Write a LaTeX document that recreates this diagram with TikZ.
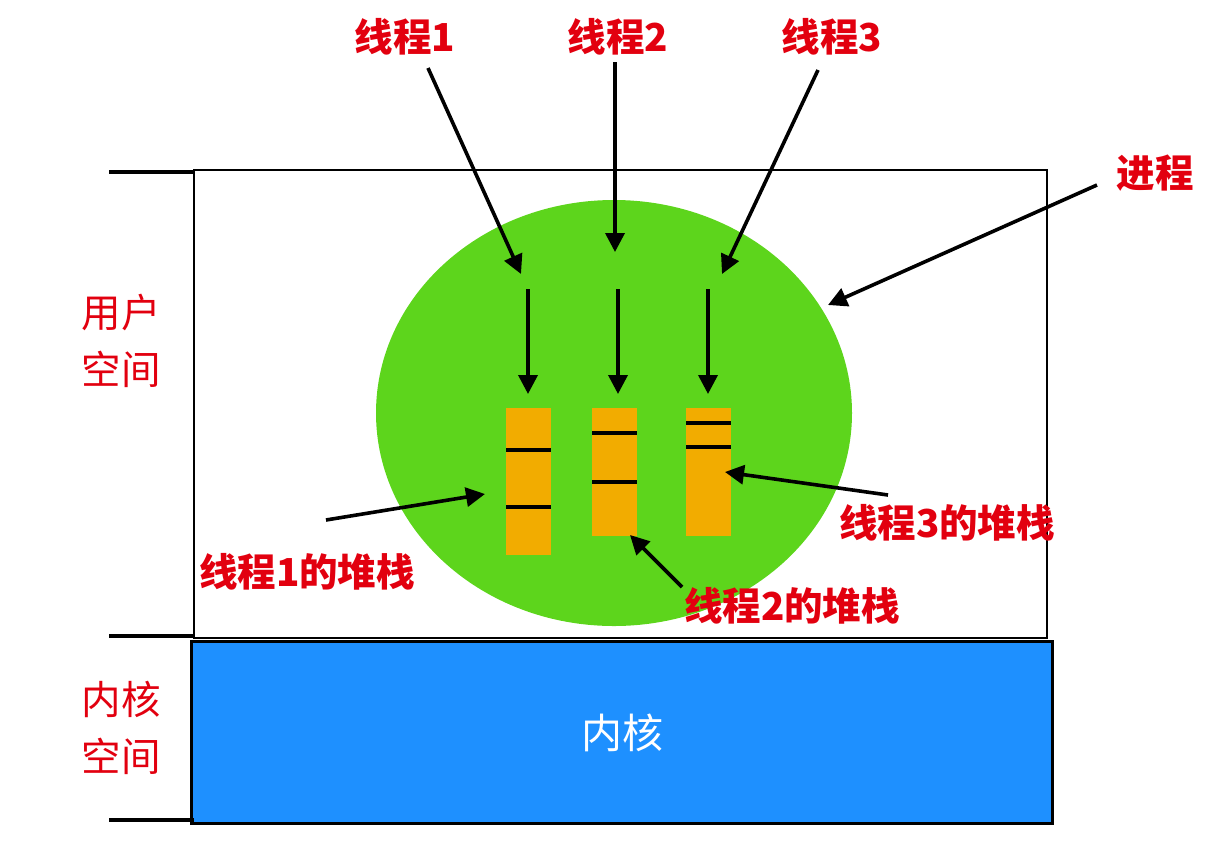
\documentclass[tikz,border=0pt]{standalone}
\usepackage{fontspec}
\newfontfamily\cjk{Noto Sans CJK SC}
\usetikzlibrary{arrows.meta}
\definecolor{lred}{HTML}{E2000F}
\definecolor{lgreen}{HTML}{5DD51C}
\definecolor{lorange}{HTML}{F2AC00}
\definecolor{lblue}{HTML}{1E90FF}
\tikzset{
  redlbl/.style={text=lred, inner sep=0pt, font=\cjk\bfseries\fontsize{38.5}{46}\selectfont},
  sidelbl/.style={text=lred, inner sep=0pt, align=center, font=\cjk\fontsize{39.5}{57}\selectfont},
  arr/.style={line width=3.6pt, -{Triangle[length=19pt,width=19pt]}},
  stackbox/.style={fill=lorange, draw=none},
  sep/.style={line width=3.5pt},
  tick/.style={line width=3.5pt},
}
\begin{document}
\begin{tikzpicture}[x=1pt,y=-1pt]
\useasboundingbox (0,0) rectangle (1220,860);
% process box
\draw[line width=2.2pt] (194,170) rectangle (1047,638);
% kernel box
\node[draw=black, line width=3pt, fill=lblue, minimum width=861pt, minimum height=182pt, inner sep=0pt, anchor=north west,
      text=white, font=\cjk\fontsize{41}{48}\selectfont] (kernel) at (190,640) {内核};
% ticks
\draw[tick] (109,172) -- (194,172);
\draw[tick] (109,636) -- (194,636);
\draw[tick] (109,820) -- (194,820);
% side labels
\node[sidelbl] (user) at (121,341) {用户\\空间};
\node[sidelbl] (kspace) at (121,728) {内核\\空间};
% green ellipse
\fill[lgreen] (614,413) ellipse [x radius=238, y radius=213];
\coordinate (proc) at (828,305);
% stacks
\fill[stackbox] (506,408) rectangle (551,555);
\draw[sep] (506,450) -- (551,450);
\draw[sep] (506,507) -- (551,507);
\fill[stackbox] (592,408) rectangle (637,536);
\draw[sep] (592,433) -- (637,433);
\draw[sep] (592,482) -- (637,482);
\fill[stackbox] (686,408) rectangle (731,536);
\draw[sep] (686,423) -- (731,423);
\draw[sep] (686,447) -- (731,447);
% inner vertical arrows
\coordinate (v1a) at (528,289); \coordinate (v1b) at (528,394);
\coordinate (v2a) at (618,289); \coordinate (v2b) at (618,394);
\coordinate (v3a) at (708,289); \coordinate (v3b) at (708,394);
\draw[arr] (v1a) -- (v1b);
\draw[arr] (v2a) -- (v2b);
\draw[arr] (v3a) -- (v3b);
% thread labels
\node[redlbl] (t1) at (405,37) {线程1};
\node[redlbl] (t2) at (618,37) {线程2};
\node[redlbl] (t3) at (832,37) {线程3};
\coordinate (t1s) at (428,68); \coordinate (t1e) at (521,274);
\coordinate (t2s) at (615,62); \coordinate (t2e) at (615,252);
\coordinate (t3s) at (818,70); \coordinate (t3e) at (722,274);
\draw[arr] (t1s) -- (t1e);
\draw[arr] (t2s) -- (t2e);
\draw[arr] (t3s) -- (t3e);
% process label
\node[redlbl] (p) at (1155,173) {进程};
\coordinate (ps) at (1097,185);
\draw[arr] (ps) -- (proc);
% stack labels
\node[redlbl] (s1) at (307,572) {线程1的堆栈};
\node[redlbl] (s2) at (792,606) {线程2的堆栈};
\node[redlbl] (s3) at (947,523) {线程3的堆栈};
\coordinate (s1s) at (326,520); \coordinate (s1e) at (485,494);
\coordinate (s2s) at (682,587); \coordinate (s2e) at (630,535);
\coordinate (s3s) at (888,495); \coordinate (s3e) at (725,472);
\draw[arr] (s1s) -- (s1e);
\draw[arr] (s2s) -- (s2e);
\draw[arr] (s3s) -- (s3e);
\end{tikzpicture}
\end{document}
